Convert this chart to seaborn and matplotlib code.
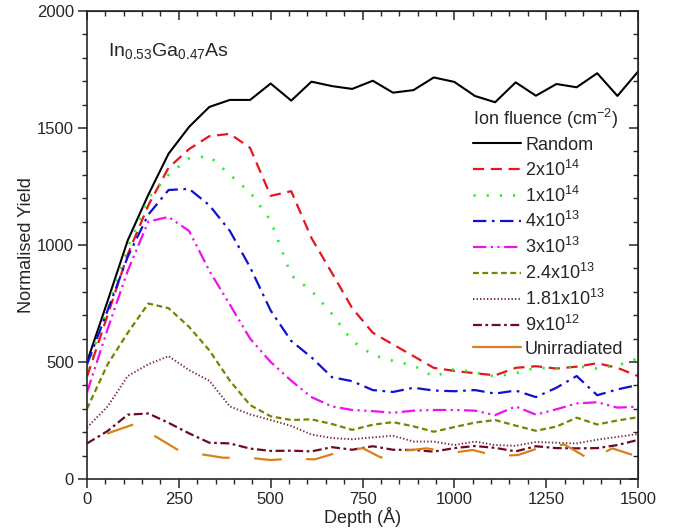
import numpy as np
import pandas as pd
import matplotlib
matplotlib.use("Agg")
import matplotlib.pyplot as plt
from matplotlib.ticker import MultipleLocator
from matplotlib.lines import Line2D
import seaborn as sns

# ---- data ----
depth = [0, 56, 111, 167, 222, 278, 333, 389, 444, 500, 556, 611, 667, 722,
         778, 833, 889, 944, 1000, 1056, 1111, 1167, 1222, 1278, 1333, 1389, 1444, 1500]

random_y = [500, 760, 1020, 1215, 1390, 1505, 1590, 1620, 1620, 1690, 1617, 1698, 1679, 1667,
            1702, 1651, 1662, 1716, 1697, 1637, 1610, 1695, 1638, 1688, 1674, 1734, 1637, 1741]
f2e14 = [437, 700, 960, 1170, 1330, 1410, 1465, 1475, 1415, 1210, 1230, 1030, 880, 730,
         625, 575, 525, 475, 462, 452, 443, 475, 482, 472, 480, 495, 475, 440]
f1e14 = [470, 730, 990, 1200, 1300, 1370, 1380, 1300, 1225, 1105, 870, 805, 705, 590,
         530, 505, 485, 437, 470, 455, 438, 452, 475, 472, 482, 472, 485, 515]
f4e13 = [490, 720, 950, 1130, 1235, 1240, 1170, 1060, 905, 720, 590, 520, 435, 418,
         380, 372, 390, 378, 375, 380, 365, 378, 350, 390, 440, 358, 383, 402]
f3e13 = [370, 640, 890, 1100, 1120, 1060, 890, 745, 600, 500, 420, 350, 310, 295,
         290, 283, 292, 295, 295, 292, 273, 310, 275, 298, 323, 328, 305, 309]
f24e13 = [300, 490, 625, 750, 730, 650, 550, 420, 316, 268, 252, 255, 235, 210,
          232, 243, 225, 202, 222, 241, 252, 228, 206, 224, 262, 233, 250, 264]
f181e13 = [220, 310, 440, 490, 525, 465, 420, 310, 276, 252, 227, 190, 175, 170,
           178, 185, 160, 160, 145, 160, 145, 142, 158, 155, 152, 168, 180, 192]
f9e12 = [152, 205, 275, 280, 240, 195, 155, 152, 130, 120, 121, 118, 136, 125,
         140, 125, 124, 117, 132, 141, 133, 118, 140, 132, 131, 132, 145, 167]

depth_unirr = [0, 130, 250, 310, 370, 440, 500, 560, 620, 680, 750, 800, 870, 925,
               995, 1050, 1115, 1175, 1240, 1300, 1370, 1430, 1495]
unirr = [165, 235, 122, 106, 91, 91, 81, 87, 84, 112, 132, 92, 122, 131,
         112, 124, 98, 103, 138, 147, 83, 131, 98]

labels = ["Random", r"2x10$^{14}$", r"1x10$^{14}$", r"4x10$^{13}$", r"3x10$^{13}$",
          r"2.4x10$^{13}$", r"1.81x10$^{13}$", r"9x10$^{12}$", "Unirradiated"]
colors = ["#000000", "#e8141e", "#22ee22", "#1010d0", "#ee10ee",
          "#7a8200", "#7a2a48", "#6e0a1e", "#d9801e"]
dash_styles = ["", (5, 3), (0.8, 4.2), (6, 2.5, 1.2, 2.5), (6, 2, 1, 2, 1, 2),
               (2.6, 1.6), (0.7, 1.1), (4, 1.6, 1.2, 1.6), (12.5, 11)]
widths = [1.5, 1.6, 1.9, 1.6, 1.6, 1.6, 1.4, 1.6, 1.6]

series = [random_y, f2e14, f1e14, f4e13, f3e13, f24e13, f181e13, f9e12]
frames = []
for lab, ys in zip(labels[:-1], series):
    frames.append(pd.DataFrame({"Depth": depth, "Yield": ys, "Fluence": lab}))
frames.append(pd.DataFrame({"Depth": depth_unirr, "Yield": unirr, "Fluence": labels[-1]}))
df = pd.concat(frames, ignore_index=True)

# ---- style ----
sns.set_style("ticks")
plt.rcParams["font.family"] = ["Liberation Sans", "DejaVu Sans"]
plt.rcParams["mathtext.fontset"] = "custom"
plt.rcParams["mathtext.rm"] = "Liberation Sans"
plt.rcParams["mathtext.it"] = "Liberation Sans:italic"
plt.rcParams["mathtext.bf"] = "Liberation Sans:bold"

fig = plt.figure(figsize=(6.84, 5.29), dpi=100)
ax = fig.add_axes([87 / 684, 1 - 479 / 529, 551 / 684, 468 / 529])

sns.lineplot(data=df, x="Depth", y="Yield", hue="Fluence", style="Fluence",
             hue_order=labels, style_order=labels,
             palette=dict(zip(labels, colors)),
             dashes=dict(zip(labels, dash_styles)),
             estimator=None, sort=False, legend=False, ax=ax)

lines = ax.get_lines()
for ln, w in zip(lines, widths):
    ln.set_linewidth(w)
lines[-1].set_linestyle((14, (12.5, 11)))

ax.set_xlim(0, 1500)
ax.set_ylim(0, 2000)
ax.xaxis.set_major_locator(MultipleLocator(250))
ax.xaxis.set_minor_locator(MultipleLocator(50))
ax.yaxis.set_major_locator(MultipleLocator(500))
ax.yaxis.set_minor_locator(MultipleLocator(100))
ax.tick_params(which="major", direction="out", length=6.5, width=1.1, labelsize=12, pad=3)
ax.tick_params(which="minor", direction="out", length=3.5, width=1.0)
for s in ax.spines.values():
    s.set_linewidth(1.2)
    s.set_visible(True)

sx = ax.secondary_xaxis("top")
sx.xaxis.set_major_locator(MultipleLocator(250))
sx.xaxis.set_minor_locator(MultipleLocator(50))
sx.tick_params(which="major", direction="in", length=6.5, width=1.1, labeltop=False)
sx.tick_params(which="minor", direction="in", length=3.5, width=1.0)
sy = ax.secondary_yaxis("right")
sy.yaxis.set_major_locator(MultipleLocator(500))
sy.yaxis.set_minor_locator(MultipleLocator(100))
sy.tick_params(which="major", direction="in", length=6.5, width=1.1, labelright=False)
sy.tick_params(which="minor", direction="in", length=3.5, width=1.0)

ax.set_xlabel("Depth (Å)", fontsize=13, labelpad=0)
ax.set_ylabel("Normalised Yield", fontsize=13, labelpad=1)

ax.text(0.038, 0.915, r"In$_{0.53}$Ga$_{0.47}$As", transform=ax.transAxes,
        fontsize=14, ha="left", va="center")

handles = []
for c, d, w in zip(colors, dash_styles, widths):
    ls = "-" if d == "" else (0, d)
    if d == (12.5, 11):
        ls = "-"
    handles.append(Line2D([], [], color=c, linestyle=ls, linewidth=w))

leg = ax.legend(handles, labels, title=r"Ion fluence (cm$^{-2}$)", loc="upper left",
                bbox_to_anchor=(0.7, 0.795), frameon=False, fontsize=13,
                title_fontsize=13, handlelength=2.7, handletextpad=0.2,
                labelspacing=0.32, borderpad=0, borderaxespad=0)
leg._legend_box.align = "left"

fig.savefig("out.png", dpi=100)
